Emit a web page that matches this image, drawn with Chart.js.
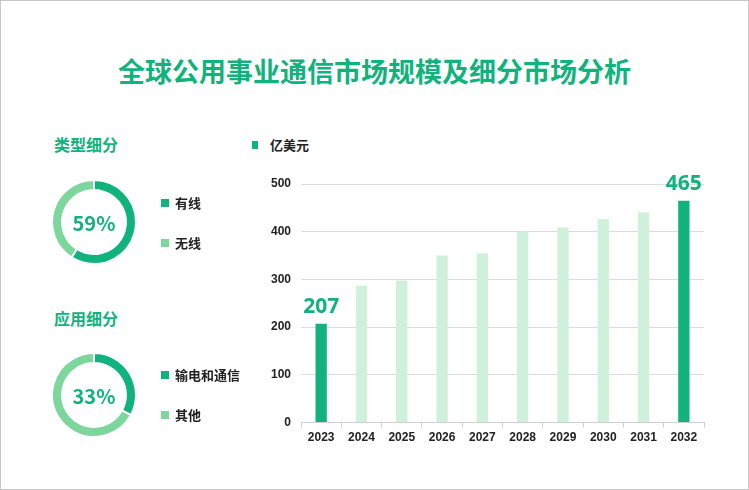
<!DOCTYPE html>
<html>
<head>
<meta charset="utf-8">
<script src="https://cdn.jsdelivr.net/npm/chart.js@4"></script>
<style>
  body { margin: 0; background: #fff; font-family: "Noto Sans CJK SC", sans-serif; }
  #wrap { position: relative; width: 747px; height: 488px; border: 1px solid #c8c8c8; overflow: hidden; }
  .abs { position: absolute; }
  .title { left: 0; width: 747px; top: 50px; text-align: center; font-size: 27px; font-weight: bold; color: #10b37c; }
  .sub { font-size: 16px; font-weight: bold; color: #10b37c; left: 53px; }
  .leg { font-size: 13px; font-weight: bold; color: #222; }
  .leg i { display: inline-block; width: 8px; height: 8px; margin-right: 6px; vertical-align: 1px; }
  .pct { width: 80px; text-align: center; font-size: 20px; font-weight: bold; color: #10b37c; }
</style>
</head>
<body>
<div id="wrap">
  <div class="abs title">全球公用事业通信市场规模及细分市场分析</div>
  <div class="abs sub" style="top:131px">类型细分</div>
  <div class="abs sub" style="top:305px">应用细分</div>
  <canvas id="d1" class="abs" style="left:50px;top:178px" width="86" height="86"></canvas>
  <canvas id="d2" class="abs" style="left:50px;top:351px" width="86" height="86"></canvas>
  <div class="abs pct" style="left:53px;top:207px">59%</div>
  <div class="abs pct" style="left:53px;top:380px">33%</div>
  <div class="abs leg" style="left:160px;top:192px"><i style="background:#10b37c"></i>有线</div>
  <div class="abs leg" style="left:160px;top:232px"><i style="background:#7dd69b"></i>无线</div>
  <div class="abs leg" style="left:160px;top:364px"><i style="background:#10b37c"></i>输电和通信</div>
  <div class="abs leg" style="left:160px;top:404px"><i style="background:#7dd69b"></i>其他</div>
  <div class="abs leg" style="left:251px;top:134px"><i style="background:#10b37c;width:6px;height:8px;margin-right:12px"></i>亿美元</div>
  <canvas id="bar" class="abs" style="left:250px;top:160px" width="470" height="295"></canvas>
</div>
<script>
const years = ["2023", "2024", "2025", "2026", "2027", "2028", "2029", "2030", "2031", "2032"];
const marketSize = [207, 287, 298, 350, 355, 400, 409, 426, 441, 465];
const typeShare = [59, 41];
const appShare = [33, 67];
const dark = "#10b37c", light = "#7dd69b", pale = "#cff0db";

function donut(id, values) {
  new Chart(document.getElementById(id), {
    type: "doughnut",
    data: { datasets: [{ data: values, backgroundColor: [dark, light], borderColor: "#fff", borderWidth: 2 }] },
    options: {
      responsive: false, animation: false, cutout: "76%",
      plugins: { legend: { display: false }, tooltip: { enabled: false } },
    },
  });
}
donut("d1", typeShare);
donut("d2", appShare);

const labelPlugin = {
  id: "endLabels",
  afterDatasetsDraw(chart) {
    const ctx = chart.ctx;
    const meta = chart.getDatasetMeta(0);
    [0, marketSize.length - 1].forEach((i) => {
      const el = meta.data[i];
      ctx.save();
      ctx.font = "bold 21px 'Noto Sans', sans-serif";
      ctx.fillStyle = dark;
      ctx.textAlign = "center";
      ctx.textBaseline = "bottom";
      ctx.fillText(marketSize[i], el.x, el.y - 6);
      ctx.restore();
    });
  },
};

new Chart(document.getElementById("bar"), {
  type: "bar",
  data: {
    labels: years,
    datasets: [{
      data: marketSize,
      backgroundColor: marketSize.map((v, i) => (i === 0 || i === marketSize.length - 1 ? dark : pale)),
      barPercentage: 0.28,
      categoryPercentage: 1,
    }],
  },
  options: {
    responsive: false, animation: false,
    layout: { padding: { top: 23, right: 17, left: 10, bottom: 8 } },
    plugins: { legend: { display: false }, tooltip: { enabled: false } },
    scales: {
      x: {
        grid: { drawOnChartArea: false, offset: true, tickLength: 5, color: "#d0d0d0" },
        border: { color: "#d0d0d0" },
        ticks: { color: "#222", font: { size: 12, weight: "bold" } },
      },
      y: {
        min: 0, max: 500,
        ticks: { stepSize: 100, color: "#222", font: { size: 12, weight: "bold" }, padding: 10 },
        grid: { color: "#dcdcdc", drawTicks: false },
        border: { display: false },
      },
    },
  },
  plugins: [labelPlugin],
});
</script>
</body>
</html>
